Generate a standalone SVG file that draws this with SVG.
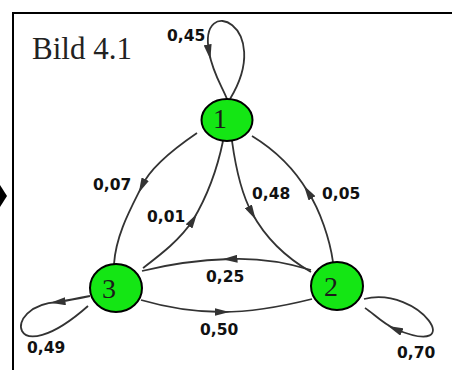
<svg xmlns="http://www.w3.org/2000/svg" width="452" height="370" viewBox="0 0 452 370">
<style>
.frame{stroke:#000;stroke-width:2;fill:none}
.node{fill:#14e614;stroke:#000;stroke-width:2}
.nlab{font-family:"Liberation Serif","Times New Roman",serif;font-size:28px;fill:#1a1a1a;text-anchor:middle}
.edge{fill:none;stroke:#333;stroke-width:1.8;marker-mid:url(#ah)}
.elab{font-family:"DejaVu Sans",Verdana,sans-serif;font-weight:bold;font-size:15.5px;fill:#111}
.title{font-family:"Liberation Serif","Times New Roman",serif;font-size:31px;fill:#222}
</style>
<defs>
<marker id="ah" viewBox="0 0 15 8" refX="7.5" refY="4" markerWidth="15" markerHeight="8" markerUnits="userSpaceOnUse" orient="auto">
<path d="M0,0 L15,4 L0,8 z" fill="#333"/>
</marker>
</defs>
<rect width="452" height="370" fill="#fff"/>
<path class="frame" d="M13,370 L13,13 L452,13"/>
<polygon points="0,185 7,196 0,207" fill="#000"/>
<text class="title" x="32" y="59">Bild 4.1</text>
<g id="connectors">
<path class="edge" d="M230,99 C275,25 198,-8 209,52 C213,74 222,86 227,99"/>
<path class="edge" d="M197,133 C175,148 150,168 142,186 C130,210 116,235 114,264"/>
<path class="edge" d="M143,268 C160,255 180,240 193,220 C205,200 216,175 223,141"/>
<path class="edge" d="M232,141 C236,170 242,195 252,213 C265,237 285,257 311,272"/>
<path class="edge" d="M333,262 C330,240 320,210 308,192 C295,170 275,150 252,136"/>
<path class="edge" d="M311,270 C285,262 255,258 230,259 C200,260 170,264 142,271"/>
<path class="edge" d="M141,300 C165,307 195,312 222,312 C250,312 280,307 312,299"/>
<path class="edge" d="M90,296 C80,298 70,300 58,302 C0,305 10,375 88,306"/>
<path class="edge" d="M364,299 C420,285 470,360 395,329 C382,323 373,313 365,308"/>
</g>
<g id="labels">
<text class="elab" x="167" y="41">0,45</text>
<text class="elab" x="93" y="190">0,07</text>
<text class="elab" x="147" y="222">0,01</text>
<text class="elab" x="252" y="199">0,48</text>
<text class="elab" x="322" y="199">0,05</text>
<text class="elab" x="206" y="282">0,25</text>
<text class="elab" x="200" y="335">0,50</text>
<text class="elab" x="27" y="353">0,49</text>
<text class="elab" x="397" y="358">0,70</text>
</g>
<g id="node1">
<ellipse class="node" cx="227" cy="120" rx="25.5" ry="21"/>
<text class="nlab" x="220" y="128">1</text>
</g>
<g id="node2">
<ellipse class="node" cx="337" cy="286" rx="26" ry="24"/>
<text class="nlab" x="331" y="296">2</text>
</g>
<g id="node3">
<ellipse class="node" cx="116" cy="288" rx="26" ry="24"/>
<text class="nlab" x="109" y="298">3</text>
</g>
</svg>
